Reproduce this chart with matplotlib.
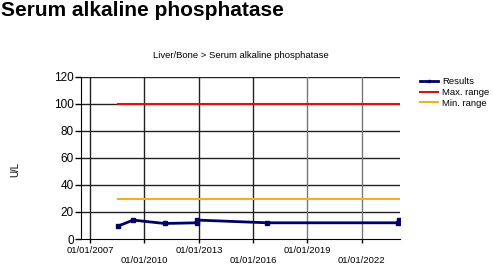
"""
Serum alkaline phosphatase results chart
"""

import matplotlib
matplotlib.use('Agg')
import matplotlib.pyplot as plt
from datetime import date

# data
dates = [date(2008, 7, 10), date(2009, 5, 20), date(2011, 2, 10), date(2012, 11, 25),
         date(2012, 12, 5), date(2016, 10, 15), date(2023, 12, 28), date(2024, 1, 20)]
results = [9.5, 14, 11.5, 12, 14, 12, 12, 14]
max_range = [100] * len(dates)
min_range = [30] * len(dates)

tick_years = [2007, 2010, 2013, 2016, 2019, 2022]
y_ticks = [0, 20, 40, 60, 80, 100, 120]

plt.rcParams['font.family'] = ['Liberation Sans', 'DejaVu Sans']

fig = plt.figure(figsize=(4.94, 2.69), dpi=100)
fig.patch.set_facecolor('white')
ax = fig.add_axes([81 / 494, 1 - 239 / 269, 319 / 494, 162 / 269])

fig.text(0.002, 0.998, 'Serum alkaline phosphatase', fontsize=15, fontweight='bold',
         va='top', ha='left')
ax.set_title('Liver/Bone > Serum alkaline phosphatase', fontsize=6.8, pad=14)

# grid lines
for yv in y_ticks[1:]:
    ax.axhline(yv, color='#222222', lw=1, zorder=1)
for yr in tick_years:
    col = '#222222' if yr < 2019 else '#777777'
    ax.axvline(date(yr, 1, 1), color=col, lw=1, zorder=1)

ax.plot(dates, results, color='#000066', lw=2, marker='s', markersize=3,
        label='Results', zorder=4)
ax.plot(dates, max_range, color='#e01010', lw=1.5, label='Max. range', zorder=3)
ax.plot(dates, min_range, color='#f0b020', lw=1.5, label='Min. range', zorder=3)

ax.set_ylim(0, 120)
ax.set_yticks(y_ticks)
ax.set_xlim(date(2006, 7, 1), date(2024, 2, 10))
ax.set_xticks([date(yr, 1, 1) for yr in tick_years])
labels = []
for i, yr in enumerate(tick_years):
    lab = f'01/01/{yr}'
    labels.append(lab if i % 2 == 0 else '\n' + lab)
ax.set_xticklabels(labels, fontsize=6.8)
ax.tick_params(axis='y', labelsize=8.5, length=4, width=1, pad=1)
ax.tick_params(axis='x', length=3, width=1, pad=2)

for s in ['top', 'right']:
    ax.spines[s].set_visible(False)

ax.set_ylabel('U/L', fontsize=7)
ax.yaxis.set_label_coords(-0.19, 0.43)

ax.legend(loc='upper left', bbox_to_anchor=(1.063, 1.0), frameon=False, fontsize=6.8,
          handlelength=1.9, handletextpad=0.4, labelspacing=0.2, borderaxespad=0,
          borderpad=0, markerscale=0.6)

fig.savefig('out.png', dpi=100, facecolor='white')
